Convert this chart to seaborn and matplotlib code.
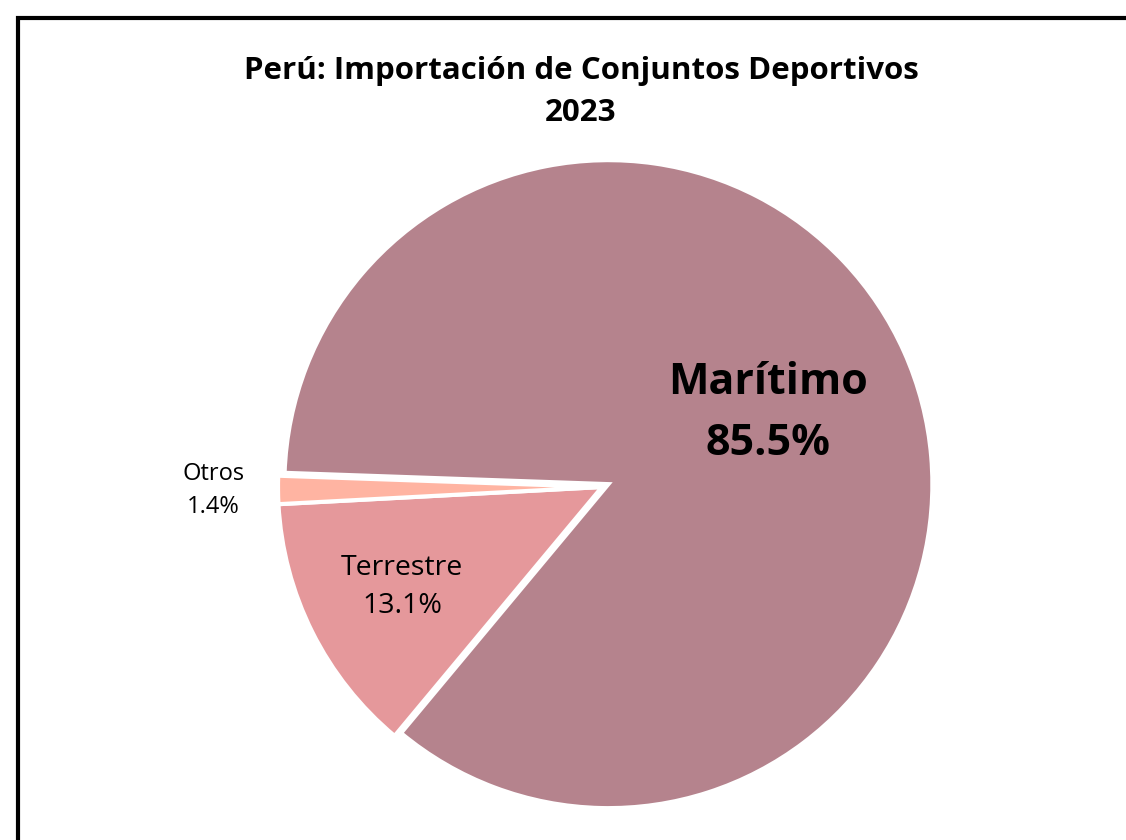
import numpy as np
import matplotlib.pyplot as plt
import seaborn as sns
from matplotlib.patches import Rectangle

# data
modos = ["Marítimo", "Terrestre", "Otros"]
participacion = [85.5, 13.1, 1.4]
colores = ["#B5838D", "#E5989B", "#FFB4A2"]
titulo = "Perú: Importación de Conjuntos Deportivos\n2023"

sns.set_style("white")
plt.rcParams['font.family'] = ['Open Sans', 'DejaVu Sans']
plt.rcParams['text.color'] = 'black'

W, H = 1126, 840
fig = plt.figure(figsize=(W / 100, H / 100), dpi=100)
ax = fig.add_axes([0, 0, 1, 1])

# pie geometry in pixel units
cx, cy, R = 602, H - 487, 324

wedges, _ = ax.pie(
    participacion,
    colors=colores,
    startangle=178,
    counterclock=False,
    center=(cx, cy),
    radius=R,
    explode=[7, 0, 0],   # offset in data (pixel) units
    wedgeprops=dict(edgecolor='white', linewidth=3),
    frame=True,
)
ax.set_xlim(0, W)
ax.set_ylim(0, H)
ax.set_aspect('equal')
ax.axis('off')

# labels: distance (fraction of radius), size, weight, line spacing
label_style = {
    "Marítimo": (0.56, 31, 'bold', 1.55),
    "Terrestre": (0.69, 20.5, 'normal', 1.45),
    "Otros": (1.2, 17, 'normal', 1.55),
}
for w, name, pct in zip(wedges, modos, participacion):
    d, fs, fw, ls = label_style[name]
    mid = np.deg2rad((w.theta1 + w.theta2) / 2)
    x = cx + d * R * np.cos(mid)
    y = cy + d * R * np.sin(mid)
    ax.text(x, y, f"{name}\n{pct:.1f}%", ha='center', va='center',
            fontsize=fs, fontweight=fw, color='black', linespacing=ls)

fig.text(581 / W, 1 - 92 / H, titulo, ha='center', va='center',
         fontsize=22.5, fontweight='bold', linespacing=1.55, color='black')

# outer chart frame (cut at right and bottom as in the source image)
fig.patches.append(Rectangle((18 / W, -0.2), 1.2, 1.2 - 18 / H,
                             transform=fig.transFigure, fill=False,
                             edgecolor='black', linewidth=3))

fig.savefig("out.png", dpi=100)
